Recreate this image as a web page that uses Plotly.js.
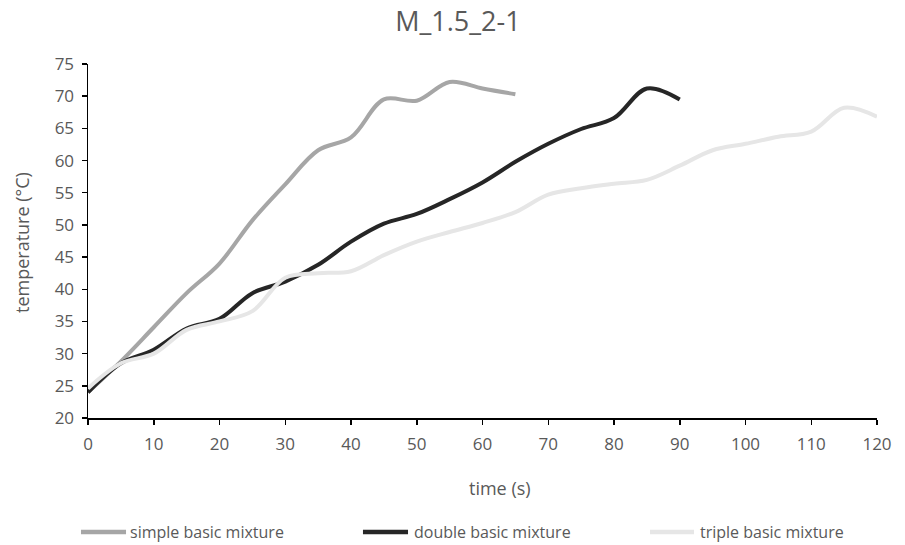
<!DOCTYPE html>
<html>
<head>
<meta charset="utf-8">
<script src="https://cdn.plot.ly/plotly-3.0.1.min.js"></script>
<style>html,body{margin:0;padding:0;background:#fff}#chart{width:905px;height:545px}</style>
</head>
<body>
<div id="chart"></div>
<script>
const timeSimple = [0, 5, 10, 15, 20, 25, 30, 35, 40, 45, 50, 55, 60, 65];
const tempSimple = [24.0, 28.8, 34.1, 39.4, 44.0, 50.7, 56.3, 61.6, 63.6, 69.5, 69.3, 72.2, 71.2, 70.3];

const timeDouble = [0, 5, 10, 15, 20, 25, 30, 35, 40, 45, 50, 55, 60, 65, 70, 75, 80, 85, 90];
const tempDouble = [24.0, 28.5, 30.6, 33.9, 35.4, 39.4, 41.2, 43.8, 47.4, 50.2, 51.7, 54.0, 56.6, 59.8, 62.6, 64.9, 66.6, 71.2, 69.5];

const timeTriple = [0, 5, 10, 15, 20, 25, 30, 35, 40, 45, 50, 55, 60, 65, 70, 75, 80, 85, 90, 95, 100, 105, 110, 115, 120];
const tempTriple = [24.6, 28.5, 30.0, 33.7, 35.0, 36.6, 41.8, 42.5, 42.8, 45.3, 47.4, 48.9, 50.3, 52.0, 54.7, 55.7, 56.4, 57.0, 59.2, 61.6, 62.6, 63.7, 64.5, 68.2, 66.8];

const seriesNames = ["simple basic mixture", "double basic mixture", "triple basic mixture"];
const seriesColors = ['#a6a6a6', '#262626', '#e6e6e6'];
const xTicks = [0, 10, 20, 30, 40, 50, 60, 70, 80, 90, 100, 110, 120];
const yTicks = [20, 25, 30, 35, 40, 45, 50, 55, 60, 65, 70, 75];
const chartTitle = 'M_1.5_2-1';
const xTitle = 'time (s)';
const yTitle = 'temperature (°C)';

const FONT = '"Open Sans", sans-serif';
const GRAY = '#595959';

function tr(x, y, name, color) {
  return {
    x: x, y: y, name: name, type: 'scatter', mode: 'lines',
    line: {color: color, width: 4, shape: 'spline', smoothing: 1},
    hoverinfo: 'skip', showlegend: false
  };
}

const data = [
  tr(timeSimple, tempSimple, seriesNames[0], seriesColors[0]),
  tr(timeDouble, tempDouble, seriesNames[1], seriesColors[1]),
  tr(timeTriple, tempTriple, seriesNames[2], seriesColors[2])
];

// legend (drawn as shapes + text, laid out like the original's bottom legend)
const legendY = -0.322;
const legendSwatch = [[-0.0089, 0.0482], [0.3485, 0.4056], [0.7123, 0.7681]];
const legendTextX = [0.0507, 0.4106, 0.7731];
const legendShapes = seriesNames.map((n, i) => ({
  type: 'line', xref: 'paper', yref: 'paper',
  x0: legendSwatch[i][0], x1: legendSwatch[i][1], y0: legendY, y1: legendY,
  line: {color: seriesColors[i], width: 4.5}
}));
const legendTexts = seriesNames.map((n, i) => ({
  text: n, xref: 'paper', yref: 'paper', x: legendTextX[i], y: legendY,
  xanchor: 'left', yanchor: 'middle', showarrow: false,
  font: {family: FONT, size: 16, color: GRAY}
}));

const layout = {
  width: 905, height: 545,
  paper_bgcolor: '#ffffff', plot_bgcolor: '#ffffff',
  margin: {l: 88, r: 28, t: 64, b: 127},
  font: {family: FONT, color: GRAY, size: 16},
  title: {text: chartTitle, x: 0.506, xanchor: 'center', y: 0.96, yanchor: 'middle',
          font: {family: FONT, size: 27, color: GRAY}},
  showlegend: false,
  xaxis: {
    range: [0, 120], tickvals: xTicks, ticktext: xTicks.map(String),
    showgrid: false, zeroline: false, showline: true, linecolor: '#000', linewidth: 1.5,
    ticks: 'outside', ticklen: 5, tickwidth: 1.5, tickcolor: '#000',
    ticklabelstandoff: 5,
    tickfont: {family: FONT, size: 17, color: GRAY},
    fixedrange: true
  },
  xaxis2: {
    overlaying: 'x', anchor: 'y', side: 'bottom', range: [0, 120], tickvals: xTicks,
    showticklabels: false, showgrid: false, zeroline: false, showline: false,
    ticks: 'inside', ticklen: 5, tickwidth: 1.5, tickcolor: '#000'
  },
  yaxis: {
    range: [20, 75], tickvals: yTicks, ticktext: yTicks.map(String),
    showgrid: false, zeroline: false, showline: true, linecolor: '#000', linewidth: 1.5,
    ticks: 'outside', ticklen: 5, tickwidth: 1.5, tickcolor: '#000',
    ticklabelstandoff: 4,
    tickfont: {family: FONT, size: 17, color: GRAY},
    fixedrange: true
  },
  yaxis2: {
    overlaying: 'y', anchor: 'x', side: 'left', range: [20, 75], tickvals: yTicks,
    showticklabels: false, showgrid: false, zeroline: false, showline: false,
    ticks: 'inside', ticklen: 5, tickwidth: 1.5, tickcolor: '#000'
  },
  shapes: legendShapes,
  annotations: [
    {text: xTitle, xref: 'paper', yref: 'paper', x: 0.522, y: -0.198,
     xanchor: 'center', yanchor: 'middle', showarrow: false,
     font: {family: FONT, size: 18, color: GRAY}},
    {text: yTitle, xref: 'paper', yref: 'paper', x: -0.0837, y: 0.497,
     xanchor: 'center', yanchor: 'middle', showarrow: false, textangle: -90,
     font: {family: FONT, size: 18, color: GRAY}}
  ].concat(legendTexts)
};

Plotly.newPlot('chart', data, layout, {staticPlot: true, displayModeBar: false});
</script>
</body>
</html>
